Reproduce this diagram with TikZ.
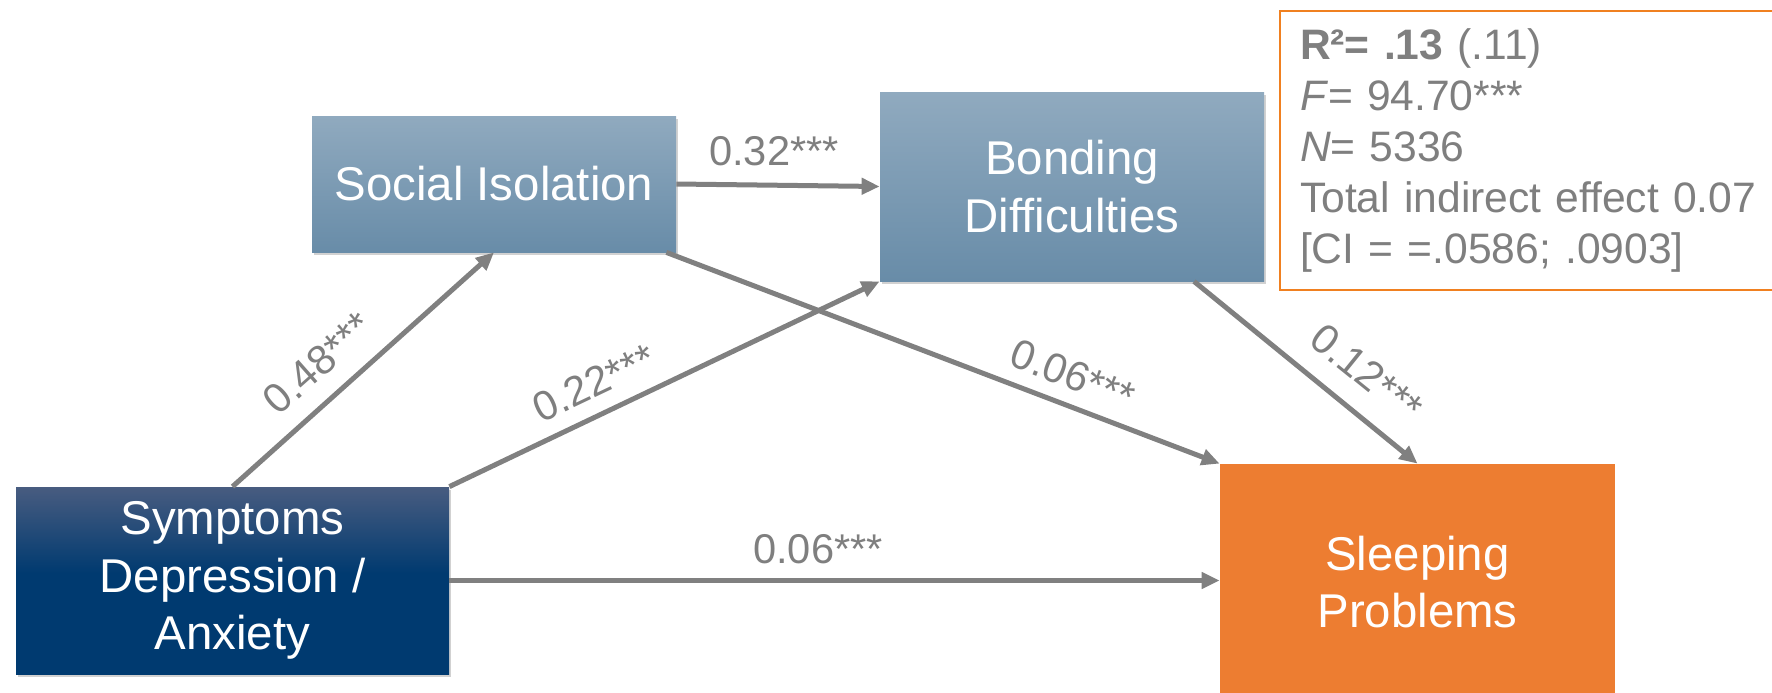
\documentclass[tikz,border=0pt]{standalone}
\usepackage{fontspec}
\setmainfont{Liberation Sans}
\usetikzlibrary{arrows.meta,shadows,calc}
\definecolor{arrowgray}{RGB}{128,128,128}
\definecolor{textgray}{RGB}{127,127,127}
\definecolor{steeltop}{RGB}{144,170,191}
\definecolor{steelbot}{RGB}{104,140,168}
\definecolor{navytop}{RGB}{72,92,128}
\definecolor{navybot}{RGB}{0,58,112}
\definecolor{sleeporange}{RGB}{237,125,49}
\definecolor{boxorange}{RGB}{240,128,32}
\pgfdeclareverticalshading{navyshade}{100bp}{color(0bp)=(navybot); color(52bp)=(navybot); color(75bp)=(navytop); color(100bp)=(navytop)}
\begin{document}
\begin{tikzpicture}[x=0.5pt,y=-0.5pt,
  box/.style={rectangle, inner sep=0pt, align=center, text=white,
    font=\fontsize{23.7}{28.7}\selectfont,
    drop shadow={shadow xshift=1pt, shadow yshift=-1.5pt, opacity=0.3, fill=black!60}},
  steel/.style={box, top color=steeltop, bottom color=steelbot},
  navy/.style={box, shading=navyshade},
  orangebox/.style={rectangle, inner sep=0pt, align=center, text=white,
    font=\fontsize{23.7}{28.7}\selectfont, fill=sleeporange},
  statsbox/.style={rectangle, draw=boxorange, line width=1pt, fill=white,
    inner xsep=10pt, inner ysep=0pt, align=left, text=textgray,
    font=\fontsize{21.3}{25.5}\selectfont},
  conn/.style={draw=arrowgray, line width=2.5pt, -{Triangle[length=9pt,width=8pt]}},
  lbl/.style={text=textgray, font=\fontsize{20.8}{24}\selectfont, inner sep=0pt}
]
\useasboundingbox (0,0) rectangle (1772,692);

\node[steel, minimum width=182pt, minimum height=68pt] (social) at (494,184) {Social Isolation};
\node[steel, minimum width=192pt, minimum height=94.5pt] (bond) at (1072,186.5) {Bonding\\Difficulties};
\node[navy, minimum width=216.5pt, minimum height=93.5pt] (symp) at (232.5,580.5) {Symptoms\\Depression /\\Anxiety};
\node[orangebox, minimum width=197.5pt, minimum height=118pt] (sleep) at (1417.5,582) {Sleeping\\Problems};

\node[statsbox, anchor=north west, text width=240pt, minimum height=139.5pt] (stats) at (1279,10)
  {{\bfseries R²= .13} (.11)\\
   \textit{F}= 94.70***\\
   \textit{N}= 5336\\
   Total indirect effect 0.07\\
   {[}CI = =.0586; .0903{]}};

\draw[conn] (symp.north) -- (social.south);
\draw[conn] (symp.north east) -- (bond.south west);
\draw[conn] (social.east) -- (bond.west);
\draw[conn] ([xshift=-5pt]social.south east) -- (sleep.north west);
\draw[conn] ([xshift=61pt]bond.south) -- (sleep.north);
\draw[conn] (symp.east) -- (symp.east -| sleep.west);

\node[lbl, anchor=base] (l32) at (774,165) {0.32***};
\node[lbl, anchor=base] (l06h) at (818,563) {0.06***};
\node[lbl, rotate=41.5] (l48) at (318,363) {0.48***};
\node[lbl, rotate=25.4] (l22) at (594,383) {0.22***};
\node[lbl, rotate=-21.5] (l06d) at (1073,375) {0.06***};
\node[lbl, rotate=-38.9] (l12) at (1367,373) {0.12***};
\end{tikzpicture}
\end{document}
